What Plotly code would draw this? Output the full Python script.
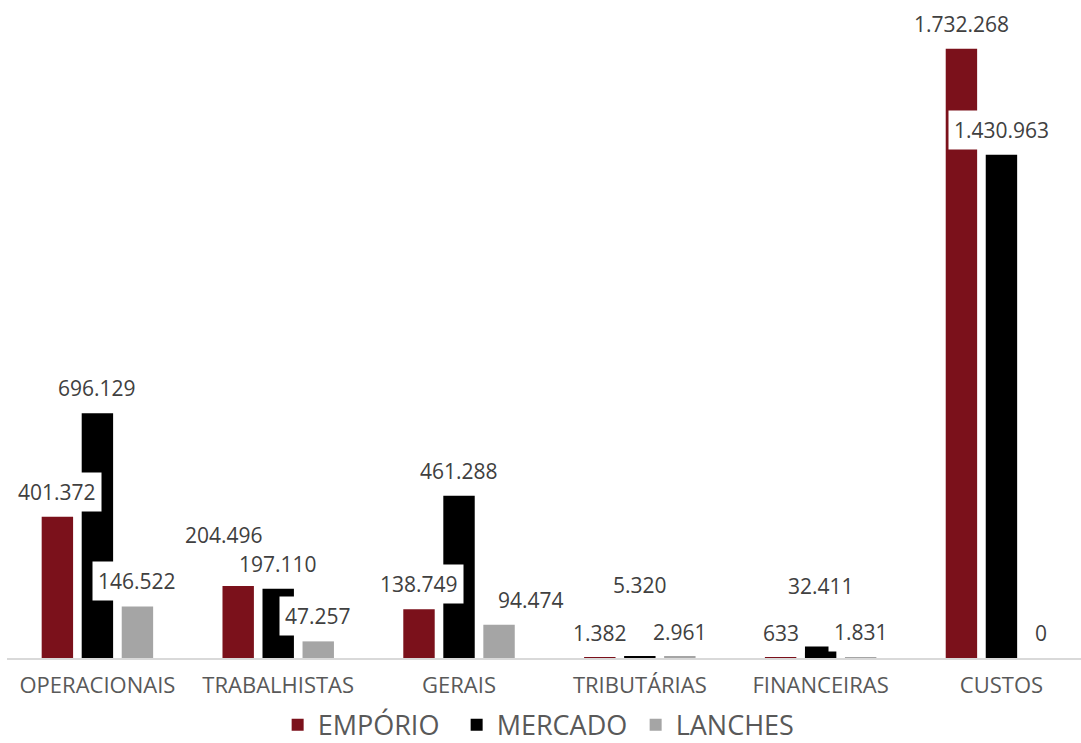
import plotly.graph_objects as go

categories = ["OPERACIONAIS", "TRABALHISTAS", "GERAIS", "TRIBUTÁRIAS", "FINANCEIRAS", "CUSTOS"]
emporio = [401372, 204496, 138749, 1382, 633, 1732268]
mercado = [696129, 197110, 461288, 5320, 32411, 1430963]
lanches = [146522, 47257, 94474, 2961, 1831, 0]
series_names = ["EMPÓRIO", "MERCADO", "LANCHES"]
series_colors = ["#7B111B", "#000000", "#A5A5A5"]

# label offsets (pixels) for manually placed data labels: (series_idx, cat_idx) -> (dx, dy)
label_offsets = {
    (0, 1): (-14, 26),
    (2, 2): (32, 0),
    (1, 3): (0, 46),
    (1, 4): (0, 36),
}

W, H = 1081, 743
ML, MR, MT, MB = 7, 0, 0, 85
xr = [-0.5, 5.44]
yr = [0, 1871000]
bargap = 0.336
plot_w = W - ML - MR
px_per_unit = plot_w / (xr[1] - xr[0])
pitch = px_per_unit * (1 - bargap) / 3

def fmt(v):
    return f"{v:,}".replace(",", ".")

fig = go.Figure()
all_series = [emporio, mercado, lanches]
for name, vals, col in zip(series_names, all_series, series_colors):
    fig.add_trace(go.Bar(x=categories, y=vals, name=name, marker=dict(color=col, line=dict(width=0))))

annotations = []
for si, vals in enumerate(all_series):
    for ci, v in enumerate(vals):
        dx, dy = label_offsets.get((si, ci), (0, 0))
        annotations.append(dict(
            x=categories[ci], y=v, xref="x", yref="y",
            text=fmt(v), showarrow=False,
            xshift=(si - 1) * pitch + dx, yshift=25 + dy,
            xanchor="center", yanchor="middle",
            bgcolor="white", borderpad=5,
            font=dict(family="Open Sans", size=21, color="#404040"),
        ))

fig.update_layout(
    width=W, height=H,
    margin=dict(l=ML, r=MR, t=MT, b=MB, autoexpand=False),
    paper_bgcolor="white", plot_bgcolor="white",
    barmode="group", bargap=bargap, bargroupgap=0.215,
    annotations=annotations,
    showlegend=True,
    legend=dict(orientation="h", x=0.502, xanchor="center", y=-0.102, yanchor="middle",
                font=dict(family="Open Sans", size=27, color="#595959"),
                itemwidth=30, traceorder="normal", entrywidth=134, entrywidthmode="pixels"),
    xaxis=dict(range=xr, showline=True, linecolor="#D9D9D9", linewidth=2,
               showgrid=False, ticks="", ticklabelstandoff=7, automargin=False,
               tickfont=dict(family="Open Sans", size=22, color="#595959")),
    yaxis=dict(range=yr, visible=False, showgrid=False, zeroline=False, automargin=False),
)

fig.write_html("out.html", config={"displayModeBar": False},
               post_script="document.body.style.margin='0';")
